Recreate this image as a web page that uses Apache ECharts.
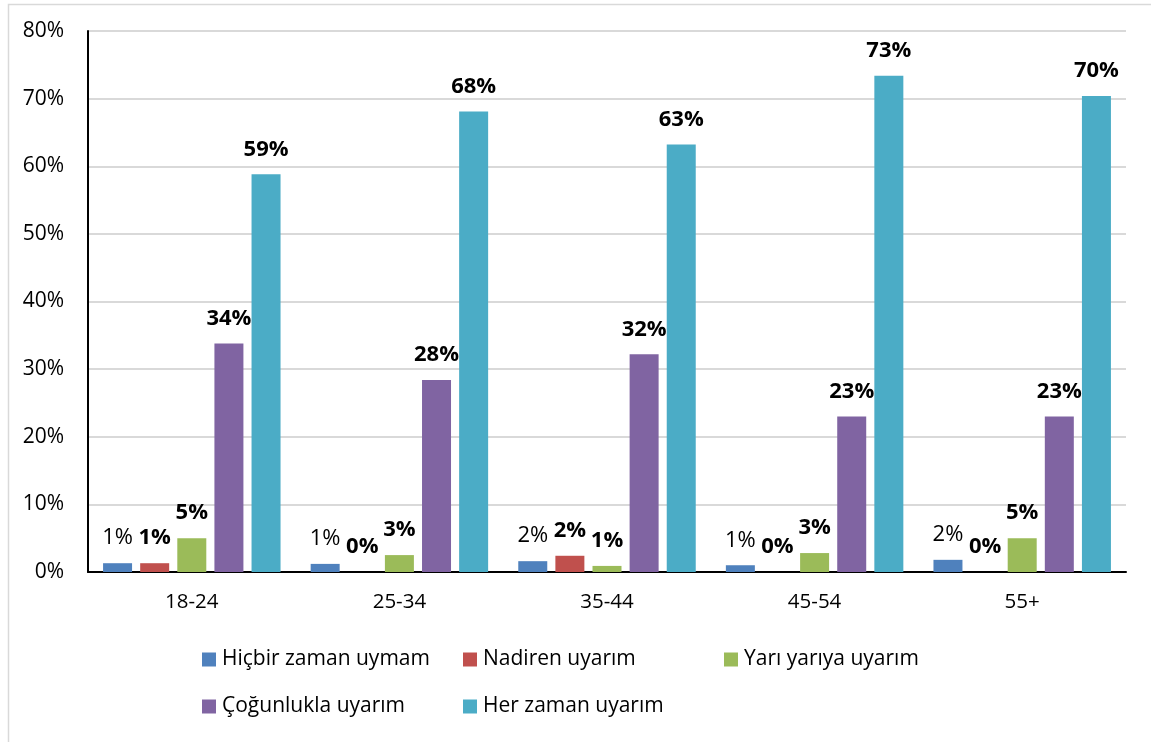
<!DOCTYPE html>
<html>
<head>
<meta charset="utf-8">
<script src="https://cdn.jsdelivr.net/npm/echarts@6/dist/echarts.min.js"></script>
<style>
  html, body { margin: 0; padding: 0; background: #fff; }
  #chart { width: 1151px; height: 742px; }
</style>
</head>
<body>
<div id="chart"></div>
<script>
// Age groups on the x axis
const categories = ['18-24', '25-34', '35-44', '45-54', '55+'];

// Share of respondents per answer, in percent
const seriesNames = ['Hiçbir zaman uymam', 'Nadiren uyarım', 'Yarı yarıya uyarım', 'Çoğunlukla uyarım', 'Her zaman uyarım'];
const hicbir     = [1.3, 1.2, 1.6, 1.0, 1.8];
const nadiren    = [1.3, 0.0, 2.4, 0.0, 0.0];
const yariYariya = [5.0, 2.5, 0.9, 2.8, 5.0];
const cogunlukla = [33.8, 28.4, 32.2, 23.0, 23.0];
const herZaman   = [58.8, 68.1, 63.2, 73.4, 70.4];

// Y axis ticks
const yTicks = [0, 10, 20, 30, 40, 50, 60, 70, 80];

const colors = ['#4f81bd', '#c0504d', '#9bbb59', '#8064a2', '#4bacc6'];
const FONT = 'Open Sans';

const seriesData = [hicbir, nadiren, yariYariya, cogunlukla, herZaman];
// Only the first series shows its labels in regular weight
const labelWeights = ['normal', 'bold', 'bold', 'bold', 'bold'];

const chart = echarts.init(document.getElementById('chart'), null, { renderer: 'canvas' });

chart.setOption({
  animation: false,
  backgroundColor: '#ffffff',
  color: colors,
  textStyle: { fontFamily: FONT },
  graphic: [{
    type: 'rect',
    left: 6, top: 2,
    shape: { width: 1160, height: 739 },
    style: { fill: 'none', stroke: '#d9d9d9', lineWidth: 1.5 },
    silent: true,
    z: -1
  }],
  grid: { left: 88, right: 25, top: 31, bottom: 170, containLabel: false },
  xAxis: {
    type: 'category',
    data: categories,
    axisLine: { show: true, lineStyle: { color: '#000', width: 2 } },
    axisTick: { show: false },
    axisLabel: { color: '#000', fontSize: 20.5, fontFamily: FONT, margin: 20 }
  },
  yAxis: {
    type: 'value',
    min: yTicks[0],
    max: yTicks[yTicks.length - 1],
    interval: yTicks[1] - yTicks[0],
    axisLine: { show: true, lineStyle: { color: '#000', width: 2 } },
    axisTick: { show: false },
    splitLine: { show: true, lineStyle: { color: '#d9d9d9', width: 2 } },
    axisLabel: { color: '#000', fontSize: 21, fontFamily: FONT, margin: 24, formatter: v => v + '%' }
  },
  legend: {
    data: seriesNames,
    left: 197,
    top: 641,
    width: 800,
    itemWidth: 14,
    itemHeight: 14,
    itemGap: 20,
    icon: 'rect',
    textStyle: { color: '#000', fontSize: 21, fontFamily: FONT, width: 221, lineHeight: 27, padding: [0, 0, 0, 1] }
  },
  series: seriesNames.map((name, i) => ({
    name: name,
    type: 'bar',
    data: seriesData[i],
    barWidth: 29,
    barGap: '28%',
    label: {
      show: true,
      position: 'top',
      distance: 14,
      color: '#000',
      fontSize: 22,
      fontFamily: FONT,
      fontWeight: labelWeights[i],
      formatter: p => Math.round(p.value) + '%'
    }
  }))
});
</script>
</body>
</html>
